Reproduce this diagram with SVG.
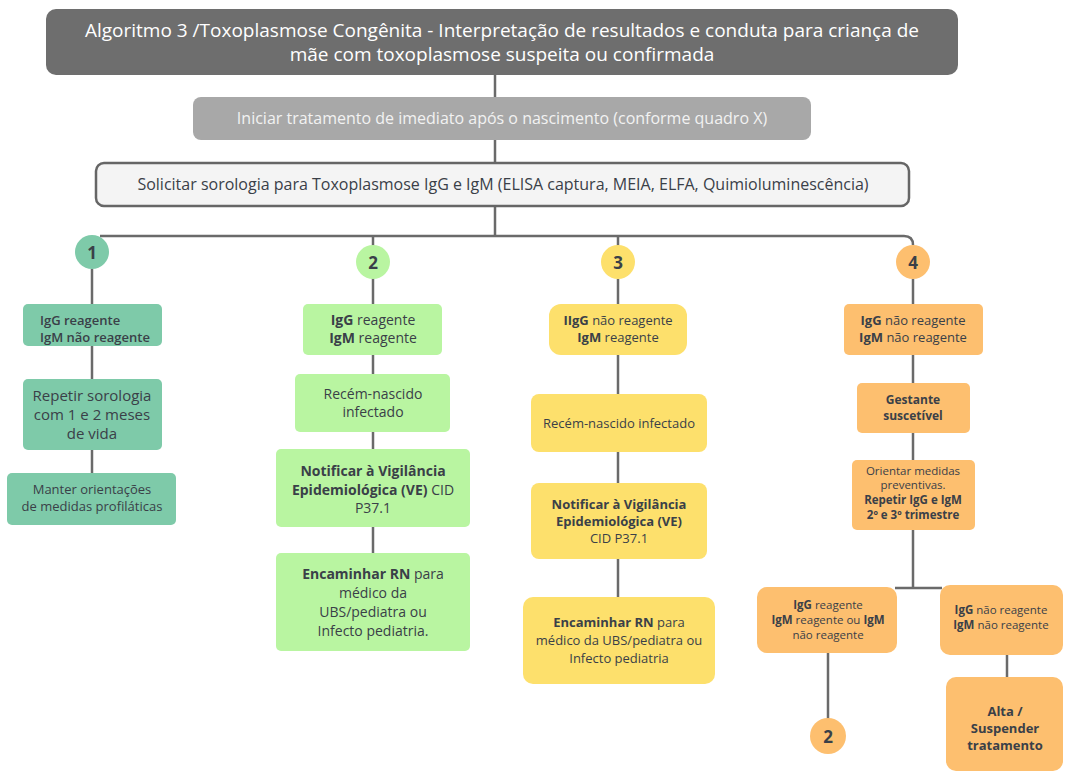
<svg xmlns="http://www.w3.org/2000/svg" width="1065" height="771" viewBox="0 0 1065 771">
  <style>
    text { font-family: "Open Sans", "Liberation Sans", sans-serif; fill: #3a4048; text-anchor: middle; }
    .b { font-weight: 700; }
    .sb { font-weight: 600; }
    .wire { fill: none; stroke: #6a6a6a; stroke-width: 2.5; }
    .teal { fill: #7ecaa9; }
    .lime { fill: #b9f5a1; }
    .sun { fill: #fde06c; }
    .amber { fill: #fdbf6f; }
    .t16 { font-size: 16px; }
    .t15 { font-size: 15px; }
    .t14 { font-size: 14px; }
    .t13 { font-size: 13px; }
    .t12 { font-size: 12px; }
    .t11 { font-size: 11.5px; }
  </style>

  <rect width="1065" height="771" fill="#ffffff"/>

  <!-- connectors -->
  <g id="connectors" class="wire">
    <line x1="495" y1="75" x2="495" y2="97"/>
    <line x1="495" y1="140" x2="495" y2="163"/>
    <line x1="495" y1="206" x2="495" y2="236"/>
    <path d="M100 236 H904 Q913 236 913 245"/>
    <line x1="373" y1="236" x2="373" y2="246"/>
    <line x1="618" y1="236" x2="618" y2="246"/>
    <!-- column 1 -->
    <line x1="92" y1="269" x2="92" y2="304"/>
    <line x1="92" y1="346" x2="92" y2="379"/>
    <line x1="92" y1="450" x2="92" y2="473"/>
    <!-- column 2 -->
    <line x1="373" y1="278" x2="373" y2="304"/>
    <line x1="373" y1="355" x2="373" y2="374"/>
    <line x1="373" y1="432" x2="373" y2="449"/>
    <line x1="373" y1="527" x2="373" y2="553"/>
    <!-- column 3 -->
    <line x1="618" y1="279" x2="618" y2="304"/>
    <line x1="618" y1="355" x2="618" y2="394"/>
    <line x1="618" y1="452" x2="618" y2="483"/>
    <line x1="618" y1="559" x2="618" y2="597"/>
    <!-- column 4 -->
    <line x1="913" y1="279" x2="913" y2="304"/>
    <line x1="913" y1="355" x2="913" y2="383"/>
    <line x1="913" y1="433" x2="913" y2="460"/>
    <line x1="913" y1="530" x2="913" y2="588"/>
    <line x1="895" y1="588" x2="942" y2="588"/>
    <line x1="828" y1="653" x2="828" y2="719"/>
    <line x1="1007" y1="655" x2="1007" y2="677"/>
  </g>

  <!-- header -->
  <g id="title">
    <rect x="46" y="9" width="912" height="66" rx="10" fill="#6e6e6e"/>
    <text x="502" y="37" font-size="19" style="fill:#ffffff">Algoritmo 3 /Toxoplasmose Congênita - Interpretação de resultados e conduta para criança de</text>
    <text x="502" y="61" font-size="19" style="fill:#ffffff">mãe com toxoplasmose suspeita ou confirmada</text>
  </g>

  <g id="start-treatment">
    <rect x="193" y="97" width="618" height="43" rx="8" fill="#a8a8a8"/>
    <text x="502" y="124" class="t16" style="fill:#f2f2f2">Iniciar tratamento de imediato após o nascimento (conforme quadro X)</text>
  </g>

  <g id="serology">
    <rect x="96" y="163" width="813" height="43" rx="8" fill="#f4f4f4" stroke="#666666" stroke-width="2.5"/>
    <text x="503" y="190" class="t16">Solicitar sorologia para Toxoplasmose IgG e IgM (ELISA captura, MEIA, ELFA, Quimioluminescência)</text>
  </g>

  <!-- branch 1 -->
  <g id="c1">
    <circle cx="92" cy="252" r="17" class="teal"/>
    <text x="92" y="259" class="b" font-size="17">1</text>
  </g>
  <g id="n1a">
    <rect x="23" y="304" width="139" height="42" rx="5" class="teal"/>
    <text x="40" y="325" class="t13 sb" style="text-anchor:start">IgG reagente</text>
    <text x="40" y="342" class="t13 sb" style="text-anchor:start">IgM  não reagente</text>
  </g>
  <g id="n1b">
    <rect x="23" y="379" width="139" height="71" rx="5" class="teal"/>
    <text x="92" y="401" class="t15">Repetir sorologia</text>
    <text x="92" y="420" class="t15">com 1 e 2 meses</text>
    <text x="92" y="439" class="t15">de vida</text>
  </g>
  <g id="n1c">
    <rect x="7" y="473" width="169" height="52" rx="5" class="teal"/>
    <text x="92" y="494" class="t13">Manter orientações</text>
    <text x="92" y="511" class="t13">de medidas profiláticas</text>
  </g>

  <!-- branch 2 -->
  <g id="c2">
    <circle cx="373" cy="262" r="17" class="lime"/>
    <text x="373" y="269" class="b" font-size="17">2</text>
  </g>
  <g id="n2a">
    <rect x="303" y="304" width="139" height="51" rx="5" class="lime"/>
    <text x="373" y="325" class="t14"><tspan class="b">IgG</tspan> reagente</text>
    <text x="373" y="343" class="t14"><tspan class="b">IgM</tspan> reagente</text>
  </g>
  <g id="n2b">
    <rect x="295" y="374" width="155" height="58" rx="5" class="lime"/>
    <text x="373" y="399" class="t14">Recém-nascido</text>
    <text x="373" y="417" class="t14">infectado</text>
  </g>
  <g id="n2c">
    <rect x="276" y="449" width="194" height="78" rx="5" class="lime"/>
    <text x="373" y="476" class="t14 b">Notificar à Vigilância</text>
    <text x="373" y="495" class="t14"><tspan class="b">Epidemiológica (VE)</tspan> CID</text>
    <text x="373" y="513" class="t14">P37.1</text>
  </g>
  <g id="n2d">
    <rect x="276" y="553" width="194" height="98" rx="5" class="lime"/>
    <text x="373" y="579" class="t14"><tspan class="b">Encaminhar RN</tspan> para</text>
    <text x="373" y="598" class="t14">médico da</text>
    <text x="373" y="617" class="t14">UBS/pediatra ou</text>
    <text x="373" y="636" class="t14">Infecto pediatria.</text>
  </g>

  <!-- branch 3 -->
  <g id="c3">
    <circle cx="618" cy="262" r="17" class="sun"/>
    <text x="618" y="269" class="b" font-size="17">3</text>
  </g>
  <g id="n3a">
    <rect x="549" y="304" width="138" height="51" rx="12" class="sun"/>
    <text x="618" y="325" class="t13"><tspan class="b">IIgG</tspan>  não reagente</text>
    <text x="618" y="342" class="t13"><tspan class="b">IgM</tspan> reagente</text>
  </g>
  <g id="n3b">
    <rect x="531" y="394" width="176" height="58" rx="8" class="sun"/>
    <text x="619" y="428" class="t13">Recém-nascido infectado</text>
  </g>
  <g id="n3c">
    <rect x="531" y="483" width="176" height="76" rx="8" class="sun"/>
    <text x="619" y="509" class="t13 b">Notificar à Vigilância</text>
    <text x="619" y="526" class="t13 b">Epidemiológica (VE)</text>
    <text x="619" y="543" class="t13">CID P37.1</text>
  </g>
  <g id="n3d">
    <rect x="523" y="597" width="192" height="87" rx="10" class="sun"/>
    <text x="619" y="627" class="t13"><tspan class="b">Encaminhar RN</tspan> para</text>
    <text x="619" y="645" class="t13">médico da UBS/pediatra ou</text>
    <text x="619" y="663" class="t13">Infecto pediatria</text>
  </g>

  <!-- branch 4 -->
  <g id="c4">
    <circle cx="913" cy="262" r="17" class="amber"/>
    <text x="913" y="269" class="b" font-size="17">4</text>
  </g>
  <g id="n4a">
    <rect x="844" y="304" width="139" height="51" rx="5" class="amber"/>
    <text x="913" y="325" class="t13"><tspan class="b">IgG</tspan>  não reagente</text>
    <text x="913" y="342" class="t13"><tspan class="b">IgM</tspan>  não reagente</text>
  </g>
  <g id="n4b">
    <rect x="857" y="383" width="113" height="50" rx="5" class="amber"/>
    <text x="913" y="404" class="t12 b">Gestante</text>
    <text x="913" y="420" class="t12 b">suscetível</text>
  </g>
  <g id="n4c">
    <rect x="852" y="460" width="123" height="70" rx="5" class="amber"/>
    <text x="913" y="475" class="t11">Orientar medidas</text>
    <text x="913" y="489" class="t11">preventivas.</text>
    <text x="913" y="504" class="t11 b">Repetir IgG e IgM</text>
    <text x="913" y="519" class="t11 b">2º e 3º trimestre</text>
  </g>
  <g id="n4d">
    <rect x="757" y="587" width="140" height="66" rx="10" class="amber"/>
    <text x="828" y="609" class="t11"><tspan class="b">IgG</tspan> reagente</text>
    <text x="828" y="624" class="t11"><tspan class="b">IgM</tspan> reagente ou <tspan class="b">IgM</tspan></text>
    <text x="828" y="639" class="t11">não reagente</text>
  </g>
  <g id="c2b">
    <circle cx="828" cy="736" r="18" class="amber"/>
    <text x="828" y="743" class="b" font-size="17">2</text>
  </g>
  <g id="n4e">
    <rect x="940" y="585" width="123" height="70" rx="10" class="amber"/>
    <text x="1001" y="614" class="t11"><tspan class="b">IgG</tspan> não reagente</text>
    <text x="1001" y="629" class="t11"><tspan class="b">IgM</tspan>  não reagente</text>
  </g>
  <g id="n4f">
    <rect x="946" y="677" width="117" height="94" rx="10" class="amber"/>
    <text x="1005" y="716" class="t13 b">Alta /</text>
    <text x="1005" y="733" class="t13 b">Suspender</text>
    <text x="1005" y="750" class="t13 b">tratamento</text>
  </g>
</svg>
